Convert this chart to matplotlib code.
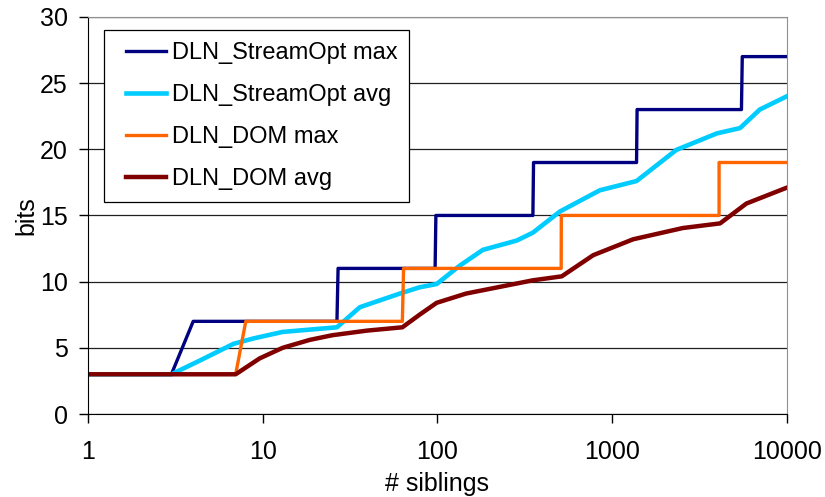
import matplotlib.pyplot as plt

plt.rcParams['font.family'] = ['Liberation Sans', 'DejaVu Sans']

# Number of siblings vs. label size in bits
so_max_x = [1, 3, 4, 26.6, 27, 97, 98, 352, 355, 1380, 1390, 5500, 5560, 10000]
so_max_y = [3, 3, 7, 7, 11, 11, 15, 15, 19, 19, 23, 23, 27, 27]

so_avg_x = [1, 3, 4.4, 6.8, 8.8, 13, 26.6, 36, 61, 79, 99, 134, 182, 284, 352,
            503, 850, 1380, 2330, 3980, 5400, 7000, 10000]
so_avg_y = [3, 3, 4.06, 5.3, 5.7, 6.2, 6.55, 8.07, 9.1, 9.57, 9.82, 11.2, 12.4,
            13.1, 13.7, 15.3, 16.9, 17.6, 19.95, 21.2, 21.6, 23.0, 24.0]

dom_max_x = [1, 7, 8, 63, 64, 511, 512, 4095, 4096, 10000]
dom_max_y = [3, 3, 7, 7, 11, 11, 15, 15, 19, 19]

dom_avg_x = [1, 7, 9.6, 13, 18.6, 25, 39.5, 63, 79, 99, 146, 352, 515, 780,
             1320, 2540, 4150, 5870, 10000]
dom_avg_y = [3, 3, 4.2, 5.0, 5.6, 5.95, 6.3, 6.55, 7.5, 8.4, 9.1, 10.1, 10.4,
             12.0, 13.2, 14.05, 14.4, 15.9, 17.1]

fig = plt.figure(figsize=(8.25, 4.97), dpi=100)
ax = fig.add_axes([0.1067, 0.167, 0.847, 0.799])

ax.plot(so_max_x, so_max_y, color='#000080', lw=2.4, label='DLN_StreamOpt max')
ax.plot(so_avg_x, so_avg_y, color='#00CCFF', lw=3.3, label='DLN_StreamOpt avg')
ax.plot(dom_max_x, dom_max_y, color='#FF6600', lw=2.4, label='DLN_DOM max')
ax.plot(dom_avg_x, dom_avg_y, color='#800000', lw=3.2, label='DLN_DOM avg')

ax.set_xscale('log')
ax.set_xlim(1, 10000)
ax.set_ylim(0, 30)
ax.set_xticks([1, 10, 100, 1000, 10000])
ax.set_xticklabels(['1', '10', '100', '1000', '10000'])
ax.minorticks_off()
ax.set_yticks(range(0, 31, 5))
ax.tick_params(labelsize=18, length=6.5, width=1, colors='black')
ax.tick_params(axis='x', pad=12)
ax.tick_params(axis='y', pad=8)

ax.yaxis.grid(True, color='#202020', lw=0.9)
ax.set_axisbelow(True)
for side in ['top', 'right']:
    ax.spines[side].set_color('#909090')
ax.spines['left'].set_color('black')
ax.spines['bottom'].set_color('black')

ax.set_xlabel('# siblings', fontsize=18, labelpad=6)
ax.set_ylabel('bits', fontsize=18, labelpad=1)

leg = ax.legend(loc='upper left', bbox_to_anchor=(0.0229, 0.967), fontsize=17,
                fancybox=False, framealpha=1, edgecolor='black',
                handlelength=2.12, labelspacing=0.85, borderpad=0.5,
                handletextpad=0.25, borderaxespad=0)
leg.get_frame().set_linewidth(0.9)
# shorter legend keys, leaving a gap on their left
for line in leg.get_lines():
    x0, x1 = line.get_xdata()[0], line.get_xdata()[-1]
    line.set_xdata([x0 + 7.2, x1])
    line.set_ydata([line.get_ydata()[0]] * 2)

fig.savefig('out.png', dpi=100)
